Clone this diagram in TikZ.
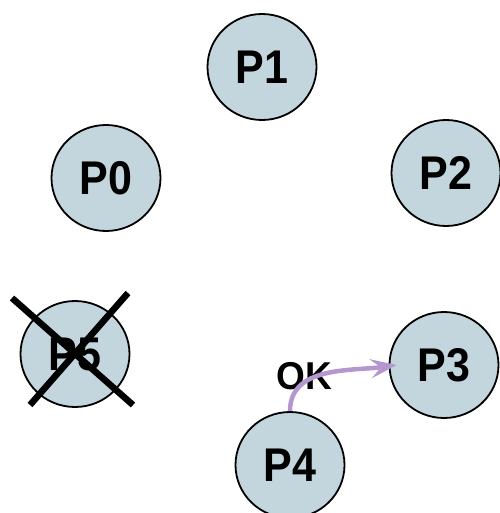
\documentclass[tikz,border=0pt]{standalone}
\usepackage{fontspec}
\setmainfont{Liberation Sans}
\usetikzlibrary{shapes.geometric,arrows.meta}
\definecolor{pfill}{HTML}{C3D6DD}
\definecolor{okpurple}{HTML}{B597CF}
\newcommand{\plabel}[1]{\raisebox{-6pt}{\scalebox{1}[1.1]{#1}}}
\begin{document}
\begin{tikzpicture}[x=1pt,y=-1pt,
  proc/.style={ellipse,draw=black,line width=1.8pt,fill=pfill,minimum width=109pt,minimum height=106pt,inner sep=0pt,font=\fontsize{43}{45}\selectfont\bfseries},
  crossline/.style={line width=6.5pt,black},
  okarrow/.style={okpurple,line width=4.5pt,-{Stealth[length=26pt,width=19pt,inset=10pt]}},
  oklabel/.style={font=\fontsize{37}{39}\selectfont\bfseries}]
\useasboundingbox (0,0) rectangle (499,513);
\node[proc] (P1) at (262,67) {\plabel{P1}};
\node[proc] (P0) at (106,178) {\plabel{P0}};
\node[proc] (P2) at (446,173) {\plabel{P2}};
\node[proc] (P5) at (75,354) {\plabel{P5}};
\node[proc] (P3) at (444,365) {\plabel{P3}};
\node[proc] (P4) at (290,465) {\plabel{P4}};
\coordinate (c1a) at (12,298);
\coordinate (c1b) at (133,405);
\coordinate (c2a) at (128,293);
\coordinate (c2b) at (30,405);
\draw[crossline] (c1a) -- (c1b);
\draw[crossline] (c2a) -- (c2b);
\node[oklabel] (ok) at (304,376) {\scalebox{1}[1.05]{OK}};
\draw[okarrow] (P4.north) to[out=90,in=188] ([xshift=8pt]P3.west);
\end{tikzpicture}
\end{document}
